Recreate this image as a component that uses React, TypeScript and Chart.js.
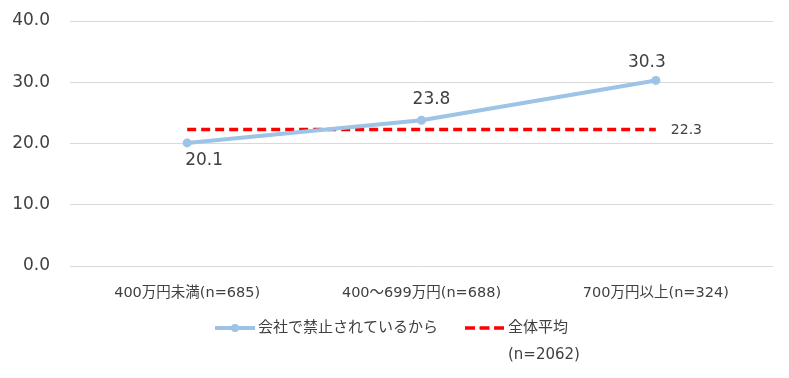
import React, { useEffect, useRef } from "react";
import { Chart, registerables } from "chart.js";

Chart.register(...registerables);

const categories = ["400万円未満(n=685)", "400～699万円(n=688)", "700万円以上(n=324)"];
const banValues = [20.1, 23.8, 30.3];
const averageValue = 22.3;
const averageValues = categories.map(() => averageValue);
const seriesNames = ["会社で禁止されているから", "全体平均"];
const averageNote = "(n=2062)";

const FONT = "'DejaVu Sans', 'Noto Sans CJK JP', sans-serif";
const BLUE = "#9DC3E6";
const RED = "#FF0000";
const TEXT = "#404040";

const overlay = {
  id: "overlay",
  afterDatasetsDraw(chart: any) {
    const ctx = chart.ctx;
    ctx.save();
    const meta = chart.getDatasetMeta(0);
    ctx.font = `17px ${FONT}`;
    ctx.fillStyle = TEXT;
    ctx.textAlign = "center";
    ctx.textBaseline = "middle";
    meta.data.forEach((pt: any, i: number) => {
      const v = banValues[i];
      const dy = i === 0 ? 18 : i === 1 ? -21 : -18;
      const dx = i === 0 ? 17 : i === 1 ? 10 : -9;
      ctx.fillText(v.toFixed(1), pt.x + dx, pt.y + dy);
    });
    const meta2 = chart.getDatasetMeta(1);
    const last = meta2.data[meta2.data.length - 1];
    ctx.font = `14px ${FONT}`;
    ctx.textAlign = "left";
    ctx.fillText(averageValue.toFixed(1), last.x + 15, last.y + 1);

    const ly = 328;
    ctx.lineCap = "butt";
    ctx.strokeStyle = BLUE;
    ctx.lineWidth = 4;
    ctx.beginPath();
    ctx.moveTo(215, ly);
    ctx.lineTo(255, ly);
    ctx.stroke();
    ctx.fillStyle = BLUE;
    ctx.beginPath();
    ctx.arc(235, ly, 4, 0, Math.PI * 2);
    ctx.fill();
    ctx.fillStyle = TEXT;
    ctx.font = `15px ${FONT}`;
    ctx.textAlign = "left";
    ctx.fillText(seriesNames[0], 258, ly);

    ctx.strokeStyle = RED;
    ctx.lineWidth = 3.5;
    ctx.setLineDash([10, 4.5]);
    ctx.beginPath();
    ctx.moveTo(465, ly);
    ctx.lineTo(504, ly);
    ctx.stroke();
    ctx.setLineDash([]);
    ctx.fillText(seriesNames[1], 508, ly);
    ctx.fillText(averageNote, 508, 355);
    ctx.restore();
  },
};

export default function App() {
  const ref = useRef<HTMLCanvasElement>(null);
  useEffect(() => {
    if (!ref.current) return;
    const chart = new Chart(ref.current, {
      type: "line",
      data: {
        labels: categories,
        datasets: [
          {
            label: seriesNames[0],
            data: banValues,
            borderColor: BLUE,
            backgroundColor: BLUE,
            borderWidth: 4,
            pointRadius: 4.5,
            pointBorderWidth: 0,
            pointBackgroundColor: BLUE,
            pointBorderColor: BLUE,
            tension: 0,
          },
          {
            label: seriesNames[1],
            data: averageValues,
            borderColor: RED,
            borderWidth: 3.5,
            borderDash: [9, 5],
            pointRadius: 0,
            tension: 0,
          },
        ],
      },
      options: {
        responsive: false,
        maintainAspectRatio: false,
        animation: false,
        layout: { padding: { left: 0, right: 16, top: 21, bottom: 72 } },
        plugins: { legend: { display: false }, tooltip: { enabled: false } },
        scales: {
          x: {
            offset: true,
            grid: { display: false, drawTicks: false },
            border: { display: false },
            ticks: { font: { family: FONT, size: 14.5 }, color: TEXT, padding: 19, maxRotation: 0 },
            afterFit: (s: any) => { s.height = 40; s.paddingLeft = 0; s.paddingRight = 0; },
          },
          y: {
            min: 0,
            max: 40,
            grid: { color: "#D9D9D9", lineWidth: 1, drawTicks: false },
            border: { display: false },
            ticks: {
              stepSize: 10,
              font: { family: FONT, size: 17 },
              color: TEXT,
              padding: 20,
              callback: (v: any) => Number(v).toFixed(1),
            },
            afterFit: (s: any) => { s.width = 70; s.paddingTop = 0; s.paddingBottom = 0; },
          },
        },
      },
      plugins: [overlay],
    });
    return () => chart.destroy();
  }, []);
  return (
    <div style={{ position: "fixed", left: 0, top: 0, width: 789, height: 378, background: "#fff" }}>
      <canvas ref={ref} width={789} height={378} />
    </div>
  );
}
